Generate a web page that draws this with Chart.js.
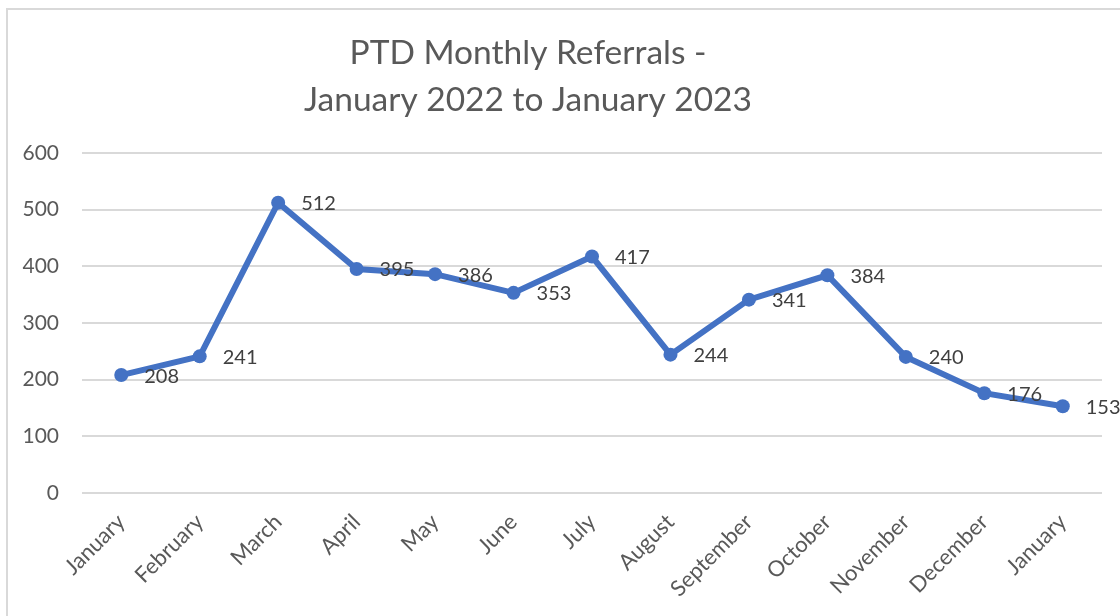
<!DOCTYPE html>
<html>
<head>
<meta charset="utf-8">
<script src="https://cdn.jsdelivr.net/npm/chart.js@4/dist/chart.umd.min.js"></script>
<style>
  html, body { margin: 0; padding: 0; background: #fff; overflow: hidden; }
  #frame { position: absolute; left: 6px; top: 8px; width: 1200px; height: 700px; border: 2px solid #d9d9d9; box-sizing: border-box; }
  #c { position: absolute; left: 0; top: 0; }
</style>
</head>
<body>
<div id="frame"></div>
<canvas id="c" width="1120" height="616"></canvas>
<script>
const months = ["January", "February", "March", "April", "May", "June", "July",
  "August", "September", "October", "November", "December", "January"];
const referrals = [208, 241, 512, 395, 386, 353, 417, 244, 341, 384, 240, 176, 153];
const titleLines = ["PTD Monthly Referrals -", "January 2022 to January 2023"];
const yMin = 0, yMax = 600, yStep = 100;

const grey = "#595959";
const blue = "#4472C4";

// value labels to the right of each point
const valueLabels = {
  id: "valueLabels",
  afterDatasetsDraw(chart) {
    const ctx = chart.ctx;
    const meta = chart.getDatasetMeta(0);
    ctx.save();
    ctx.font = "20px Lato";
    ctx.fillStyle = "#404040";
    ctx.textAlign = "left";
    ctx.textBaseline = "middle";
    meta.data.forEach((pt, i) => ctx.fillText(String(referrals[i]), pt.x + 23, pt.y + 1));
    ctx.restore();
  }
};

// the title sits a bit left of the canvas centre
const titleShift = {
  id: "titleShift",
  afterLayout(chart) {
    const t = chart.titleBlock;
    if (t) { t.left = 0; t.right = 1056; }
  }
};

new Chart(document.getElementById("c"), {
  type: "line",
  data: {
    labels: months,
    datasets: [{
      data: referrals,
      borderColor: blue,
      backgroundColor: blue,
      borderWidth: 6,
      pointRadius: 7,
      pointHoverRadius: 7,
      pointBorderWidth: 0,
      pointBackgroundColor: blue,
      tension: 0,
    }]
  },
  options: {
    responsive: false,
    devicePixelRatio: 1,
    animation: false,
    layout: { padding: { left: 0, right: 18, top: 0, bottom: 0 } },
    plugins: {
      legend: { display: false },
      tooltip: { enabled: false },
      title: {
        display: true,
        text: titleLines,
        color: grey,
        font: { family: "Lato", size: 33.5, weight: "normal", lineHeight: 1.4 },
        padding: { top: 30, bottom: 29 },
      },
    },
    scales: {
      x: {
        offset: true,
        grid: { display: false, drawTicks: false },
        border: { display: false },
        ticks: {
          color: grey,
          font: { family: "Lato", size: 22 },
          maxRotation: 45,
          minRotation: 45,
          autoSkip: false,
          padding: 16,
        },
        afterFit(scale) { scale.height = 123; },
      },
      y: {
        min: yMin,
        max: yMax,
        grid: { color: "#d9d9d9", lineWidth: 2, drawTicks: false },
        border: { display: false },
        ticks: {
          stepSize: yStep,
          color: grey,
          font: { family: "Lato", size: 21 },
          padding: 23,
        },
        afterFit(scale) { scale.width = 82; },
      }
    }
  },
  plugins: [valueLabels, titleShift]
});
</script>
</body>
</html>
